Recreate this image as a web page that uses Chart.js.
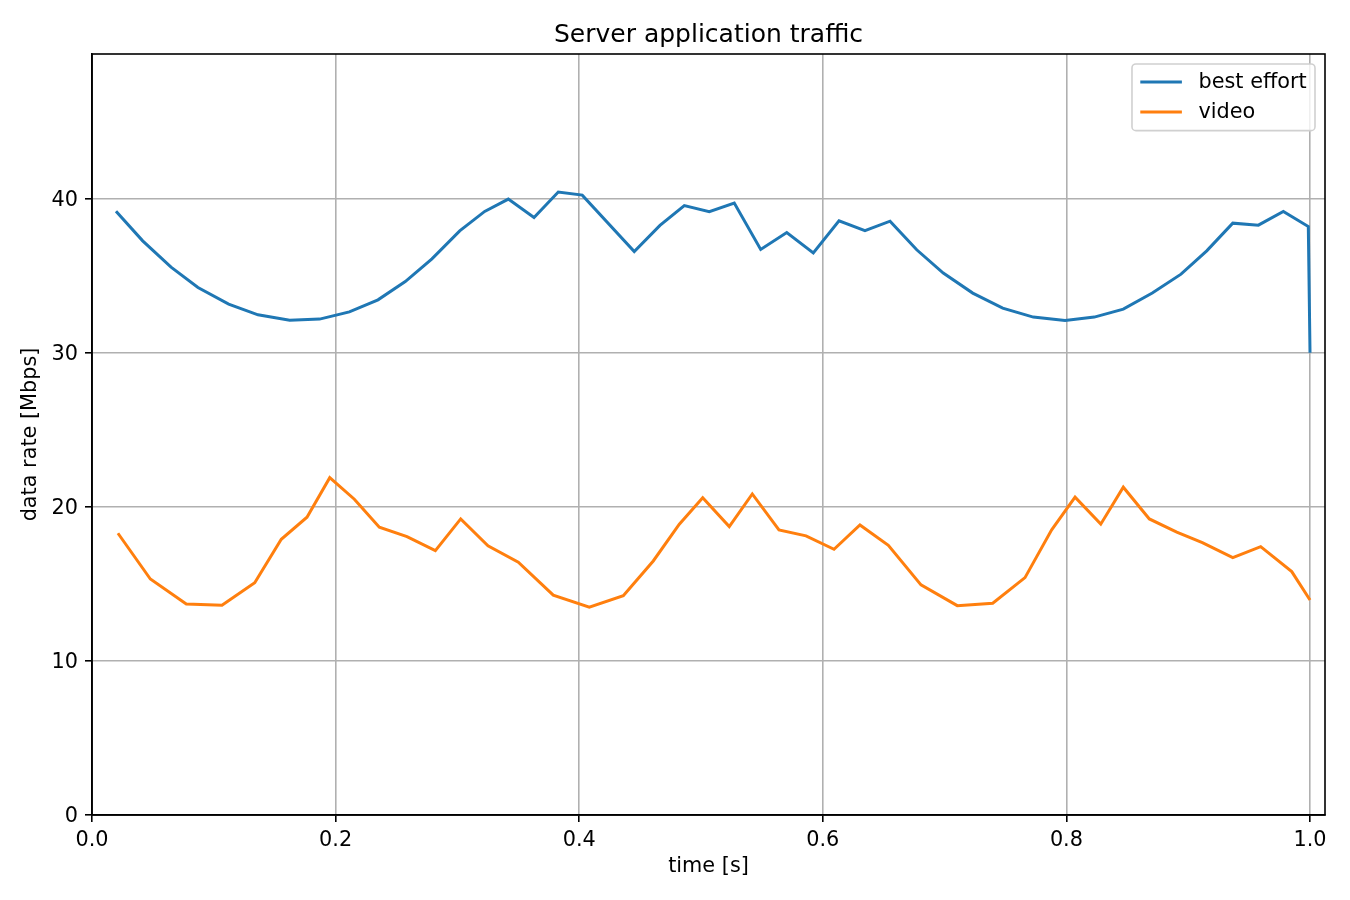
<!DOCTYPE html>
<html>
<head>
<meta charset="utf-8">
<script src="https://cdn.jsdelivr.net/npm/chart.js@4"></script>
<style>
  body { margin: 0; background: #fff; }
  canvas { display: block; }
</style>
</head>
<body>
<canvas id="chart" width="1350" height="900"></canvas>
<script>
// ----------------- Data -----------------
const beTime = [0.0197, 0.0416, 0.0649, 0.0870, 0.1122, 0.1363, 0.1623, 0.1869, 0.2113, 0.2348,
  0.2572, 0.2791, 0.3019, 0.3224, 0.3418, 0.3629, 0.3828, 0.4025, 0.4452, 0.4663,
  0.4863, 0.5068, 0.5273, 0.5490, 0.5704, 0.5922, 0.6133, 0.6346, 0.6552, 0.6771,
  0.6989, 0.7231, 0.7477, 0.7728, 0.7989, 0.8229, 0.8467, 0.8705, 0.8941, 0.9152,
  0.9366, 0.9576, 0.9781, 0.9986, 1.0];
const beRate = [39.2, 37.27, 35.56, 34.24, 33.16, 32.47, 32.12, 32.19, 32.66, 33.44,
  34.63, 36.10, 37.92, 39.18, 39.98, 38.79, 40.44, 40.24, 36.58, 38.27,
  39.56, 39.16, 39.72, 36.71, 37.81, 36.49, 38.57, 37.94, 38.55, 36.69,
  35.18, 33.88, 32.90, 32.32, 32.10, 32.32, 32.84, 33.88, 35.11, 36.62,
  38.42, 38.29, 39.18, 38.20, 30.0];

const videoTime = [0.0213, 0.0479, 0.0774, 0.1067, 0.1336, 0.1554, 0.1765, 0.1952, 0.2154, 0.2359,
  0.2586, 0.2819, 0.3027, 0.3251, 0.3500, 0.3787, 0.4083, 0.4362, 0.4608, 0.4822,
  0.5014, 0.5232, 0.5421, 0.5640, 0.5862, 0.6092, 0.6305, 0.6538, 0.6806, 0.7104,
  0.7395, 0.7660, 0.7879, 0.8071, 0.8282, 0.8467, 0.8681, 0.8906, 0.9116, 0.9366,
  0.9595, 0.9850, 1.0];
const videoRate = [18.29, 15.32, 13.70, 13.62, 15.08, 17.90, 19.33, 21.90, 20.50, 18.68,
  18.07, 17.16, 19.22, 17.47, 16.41, 14.27, 13.49, 14.23, 16.49, 18.88,
  20.60, 18.72, 20.84, 18.51, 18.12, 17.25, 18.83, 17.51, 14.94, 13.59,
  13.75, 15.41, 18.51, 20.63, 18.88, 21.28, 19.22, 18.36, 17.68, 16.71,
  17.42, 15.80, 13.96];

const seriesNames = ['best effort', 'video'];
const xTicks = [0, 0.2, 0.4, 0.6, 0.8, 1.0];
const yTicks = [0, 10, 20, 30, 40];

const FONT = 'DejaVu Sans';
Chart.defaults.font.family = FONT;
Chart.defaults.color = '#000';

// frame around the axes + legend box inside, like matplotlib
const framePlugin = {
  id: 'frame',
  afterDraw(chart){
    const {ctx, chartArea: a} = chart;
    ctx.save();
    ctx.strokeStyle = '#000';
    ctx.lineWidth = 1.6;
    ctx.strokeRect(a.left, a.top, a.right - a.left, a.bottom - a.top);

    // legend
    const fs = 20.8;
    ctx.font = fs + 'px "' + FONT + '"';
    const ds = chart.data.datasets;
    const textW = Math.max(...ds.map(d => ctx.measureText(d.label).width));
    const pad = 0.4 * fs, handle = 2 * fs, gap = 0.8 * fs, rowH = 30;
    const w = pad + handle + gap + textW + pad;
    const h = pad * 2 + rowH * ds.length - 10;
    const x = a.right - 10 - w, y = a.top + 10;
    ctx.beginPath();
    ctx.roundRect(x, y, w, h, 4);
    ctx.fillStyle = 'rgba(255,255,255,0.8)';
    ctx.fill();
    ctx.strokeStyle = '#d0d0d0';
    ctx.lineWidth = 1.6;
    ctx.stroke();
    ds.forEach((d, i) => {
      const cy = y + 18 + i * rowH;
      ctx.beginPath();
      ctx.moveTo(x + pad, cy);
      ctx.lineTo(x + pad + handle, cy);
      ctx.strokeStyle = d.borderColor;
      ctx.lineWidth = 3;
      ctx.stroke();
      ctx.fillStyle = '#000';
      ctx.textBaseline = 'middle';
      ctx.textAlign = 'left';
      ctx.fillText(d.label, x + pad + handle + gap, cy + 1);
    });
    ctx.restore();
  }
};

const ctx = document.getElementById('chart').getContext('2d');
new Chart(ctx, {
  type: 'line',
  data: {
    datasets: [
      {label: seriesNames[0], data: beTime.map((t, i) => ({x: t, y: beRate[i]})), borderColor: '#1f77b4'},
      {label: seriesNames[1], data: videoTime.map((t, i) => ({x: t, y: videoRate[i]})), borderColor: '#ff7f0e'}
    ]
  },
  options: {
    responsive: false,
    devicePixelRatio: 1,
    animation: false,
    elements: {
      line: {borderWidth: 3, tension: 0, fill: false},
      point: {radius: 0, hoverRadius: 0}
    },
    layout: {padding: {left: 0, right: 25, top: 0, bottom: 0}},
    plugins: {
      legend: {display: false},
      tooltip: {enabled: false},
      title: {
        display: true,
        text: 'Server application traffic',
        fullSize: false,
        font: {size: 25, weight: 'normal'},
        padding: {top: 20, bottom: 4}
      }
    },
    scales: {
      x: {
        type: 'linear',
        min: 0,
        max: 1.0123,
        afterBuildTicks: s => { s.ticks = xTicks.map(v => ({value: v})); },
        afterFit: s => { s.height = 85; },
        ticks: {font: {size: 20.8}, padding: 6, maxRotation: 0, callback: v => v.toFixed(1)},
        grid: {color: '#b0b0b0', lineWidth: 1.6, tickColor: '#000', tickWidth: 1.6, tickLength: 7},
        border: {display: true, color: '#000', width: 1.6},
        title: {display: true, text: 'time [s]', font: {size: 20.8}, padding: {top: 0, bottom: 21}}
      },
      y: {
        type: 'linear',
        min: 0,
        max: 49.4,
        afterBuildTicks: s => { s.ticks = yTicks.map(v => ({value: v})); },
        afterFit: s => { s.width = 92; },
        ticks: {font: {size: 20.8}, padding: 7, labelOffset: 2, callback: v => v},
        grid: {color: '#b0b0b0', lineWidth: 1.6, tickColor: '#000', tickWidth: 1.6, tickLength: 7},
        border: {display: true, color: '#000', width: 1.6},
        title: {display: true, text: 'data rate [Mbps]', font: {size: 20.8}, padding: {top: 18, bottom: 0}}
      }
    }
  },
  plugins: [framePlugin]
});
</script>
</body>
</html>
